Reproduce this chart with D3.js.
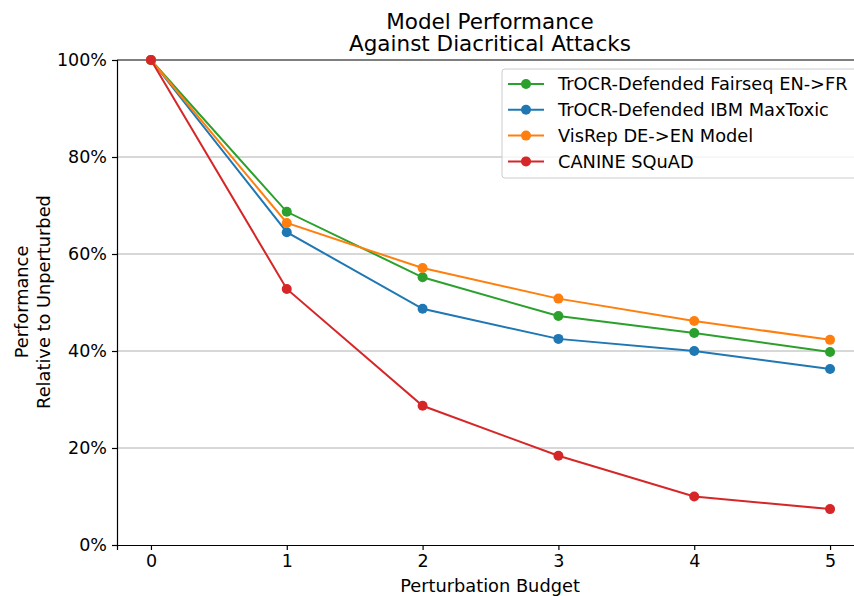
<!DOCTYPE html>
<html>
<head>
<meta charset="utf-8">
<script src="https://cdn.jsdelivr.net/npm/d3@7"></script>
<style>
  body { margin: 0; background: #fff; overflow: hidden; }
  svg { font-family: "DejaVu Sans", sans-serif; display: block; }
</style>
</head>
<body>
<svg id="chart"></svg>
<script>
// data
const budgets = [0, 1, 2, 3, 4, 5];
const seriesNames = [
    'TrOCR-Defended Fairseq EN->FR',
    'TrOCR-Defended IBM MaxToxic',
    'VisRep DE->EN Model',
    'CANINE SQuAD'
];
const fairseqValues = [1.0, 0.687, 0.552, 0.472, 0.437, 0.398];
const maxToxicValues = [1.0, 0.645, 0.487, 0.425, 0.400, 0.363];
const visRepValues = [1.0, 0.664, 0.571, 0.508, 0.462, 0.423];
const canineValues = [1.0, 0.528, 0.287, 0.184, 0.100, 0.074];
const yTicks = [0, 0.2, 0.4, 0.6, 0.8, 1.0];
const colors = ['#2ca02c', '#1f77b4', '#ff7f0e', '#d62728'];

const series = [fairseqValues, maxToxicValues, visRepValues, canineValues];

const width = 854, height = 596;
const margin = {top: 60, left: 117};
const innerWidth = 864 - margin.left;
const innerHeight = 545 - margin.top;

const svg = d3.select('#chart')
    .attr('width', width)
    .attr('height', height);

const chart = svg.append('g')
    .attr('transform', `translate(${margin.left}, ${margin.top})`);

const xscale = d3.scaleLinear()
    .domain([-0.25, 5.25])
    .range([0, innerWidth]);

const yscale = d3.scaleLinear()
    .domain([0, 1])
    .range([innerHeight, 0]);

// grid
chart.append('g')
    .selectAll('line')
    .data(yTicks.slice(1, -1))
    .join('line')
    .attr('x1', 0)
    .attr('x2', innerWidth)
    .attr('y1', d => yscale(d))
    .attr('y2', d => yscale(d))
    .attr('stroke', '#b0b0b0')
    .attr('stroke-width', 1);

// axes
const xaxis = d3.axisBottom(xscale)
    .tickValues(budgets)
    .tickFormat(d3.format('d'))
    .tickSizeOuter(0)
    .tickSize(5)
    .tickPadding(5);

const yaxis = d3.axisLeft(yscale)
    .tickValues(yTicks)
    .tickFormat(d3.format('.0%'))
    .tickSizeOuter(0)
    .tickSize(5)
    .tickPadding(5);

const xaxis_group = chart.append('g')
    .attr('transform', `translate(0, ${innerHeight})`)
    .call(xaxis);

const yaxis_group = chart.append('g')
    .call(yaxis);

[xaxis_group, yaxis_group].forEach(g => {
    g.selectAll('text')
        .attr('font-size', 17.5)
        .attr('font-family', '"DejaVu Sans", sans-serif')
        .attr('fill', '#000');
    g.selectAll('line').attr('stroke', '#000').attr('stroke-width', 1.2);
    g.select('.domain').attr('stroke', '#000').attr('stroke-width', 1.2);
});

// top spine
chart.append('line')
    .attr('x1', 0)
    .attr('x2', innerWidth)
    .attr('y1', 0)
    .attr('y2', 0)
    .attr('stroke', '#000')
    .attr('stroke-width', 1.2);

// lines and markers
const line = d3.line()
    .x((d, i) => xscale(budgets[i]))
    .y(d => yscale(d));

series.forEach((values, s) => {
    chart.append('path')
        .attr('d', line(values))
        .attr('fill', 'none')
        .attr('stroke', colors[s])
        .attr('stroke-width', 2);

    chart.append('g')
        .selectAll('circle')
        .data(values)
        .join('circle')
        .attr('cx', (d, i) => xscale(budgets[i]))
        .attr('cy', d => yscale(d))
        .attr('r', 5)
        .attr('fill', colors[s]);
});

// legend
const legend = svg.append('g')
    .attr('transform', 'translate(502, 69)');

legend.append('rect')
    .attr('width', 370)
    .attr('height', 109)
    .attr('rx', 3)
    .attr('fill', 'rgba(255,255,255,0.8)')
    .attr('stroke', '#cccccc');

seriesNames.forEach((name, i) => {
    const row = legend.append('g')
        .attr('transform', `translate(0, ${15 + i * 25.8})`);
    row.append('line')
        .attr('x1', 6)
        .attr('x2', 42)
        .attr('stroke', colors[i])
        .attr('stroke-width', 2);
    row.append('circle')
        .attr('cx', 24)
        .attr('r', 5)
        .attr('fill', colors[i]);
    row.append('text')
        .attr('x', 56)
        .attr('dy', '0.35em')
        .attr('font-size', 17.8)
        .text(name);
});

// title
svg.append('text')
    .attr('x', 490)
    .attr('y', 28.5)
    .attr('text-anchor', 'middle')
    .attr('font-size', 21.5)
    .text('Model Performance');
svg.append('text')
    .attr('x', 490)
    .attr('y', 50.5)
    .attr('text-anchor', 'middle')
    .attr('font-size', 21.5)
    .text('Against Diacritical Attacks');

// axis labels
svg.append('text')
    .attr('x', 490)
    .attr('y', 592)
    .attr('text-anchor', 'middle')
    .attr('font-size', 17.8)
    .text('Perturbation Budget');

const ylabel = svg.append('text')
    .attr('transform', 'translate(0, 302) rotate(-90)')
    .attr('text-anchor', 'middle')
    .attr('font-size', 17.8);
ylabel.append('tspan').attr('x', 0).attr('y', 28).text('Performance');
ylabel.append('tspan').attr('x', 0).attr('y', 49.5).text('Relative to Unperturbed');
</script>
</body>
</html>
